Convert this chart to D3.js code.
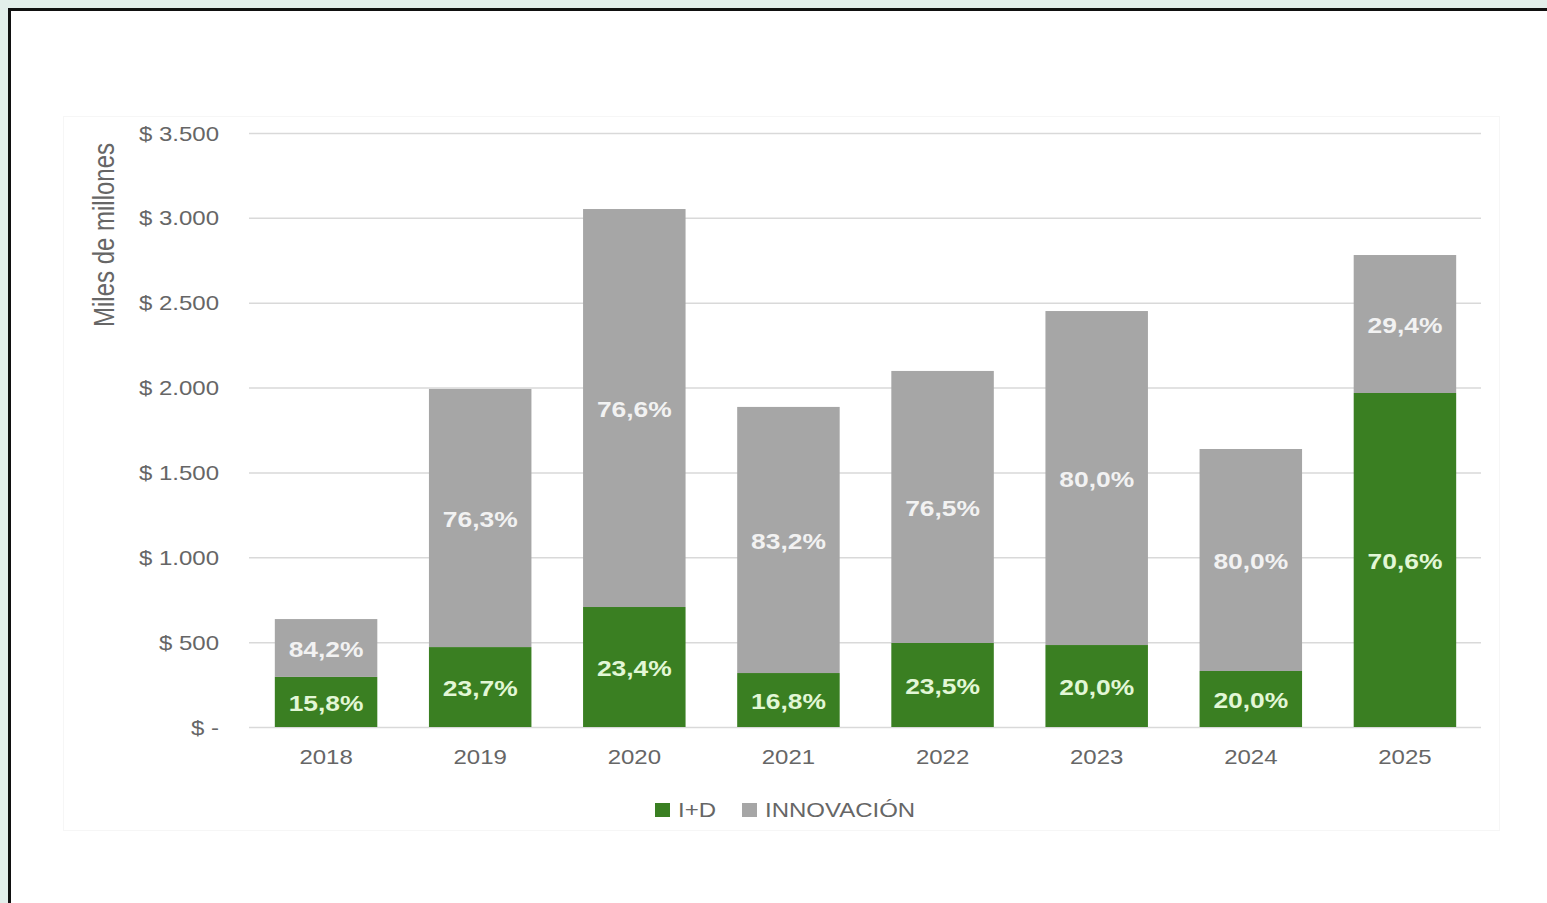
<!DOCTYPE html>
<html>
<head>
<meta charset="utf-8">
<script src="https://cdn.jsdelivr.net/npm/d3@7"></script>
<style>
  html, body { margin: 0; padding: 0; background: #e3efeb; overflow: hidden; }
  svg { display: block; }
  text { font-family: "Liberation Sans", Arial, sans-serif; }
</style>
</head>
<body>
<svg id="chart" width="1547" height="903"></svg>
<script>
const categories = ["2018", "2019", "2020", "2021", "2022", "2023", "2024", "2025"];
const idValues = [295, 471, 707, 318, 495, 483, 330, 1968];
const innovValues = [341, 1521, 2345, 1568, 1603, 1968, 1308, 813];
const idLabels = ["15,8%", "23,7%", "23,4%", "16,8%", "23,5%", "20,0%", "20,0%", "70,6%"];
const innovLabels = ["84,2%", "76,3%", "76,6%", "83,2%", "76,5%", "80,0%", "80,0%", "29,4%"];
const yTicks = [0, 500, 1000, 1500, 2000, 2500, 3000, 3500];
const yTickLabels = ["$ -", "$ 500", "$ 1.000", "$ 1.500", "$ 2.000", "$ 2.500", "$ 3.000", "$ 3.500"];
const seriesNames = ["I+D", "INNOVACIÓN"];
const yTitle = "Miles de millones";

const colors = { id: "#3a7f22", innov: "#a6a6a6" };
const SX = 1.2; // horizontal stretch of the original picture's text
const textGray = "#666666";

const svg = d3.select("#chart");

// frame
svg.append("rect").attr("x", 9.5).attr("y", 9.5).attr("width", 1700).attr("height", 1000)
  .attr("fill", "#ffffff").attr("stroke", "#111").attr("stroke-width", 3);
// faint chart area
svg.append("rect").attr("x", 63.5).attr("y", 116.5).attr("width", 1436).attr("height", 714)
  .attr("fill", "#ffffff").attr("stroke", "#f6f6f6").attr("stroke-width", 1);

const x = d3.scaleBand().domain(categories).range([249, 1482]).paddingInner(0.335).paddingOuter(0.1675);
const y = d3.scaleLinear().domain([0, 3500]).range([727, 133]);

// grid
const yAxis = d3.axisLeft(y).tickValues(yTicks).tickSize(-(1481 - 249)).tickFormat((d, i) => yTickLabels[i]).tickPadding(30);
const gy = svg.append("g").attr("transform", "translate(249,0)").call(yAxis);
gy.select(".domain").remove();
gy.selectAll(".tick line").attr("stroke", "#d9d9d9").attr("stroke-width", 1.5);
gy.selectAll(".tick text")
  .attr("fill", textGray).attr("font-size", 20).attr("text-anchor", "end")
  .attr("x", null).attr("dy", "0.35em")
  .attr("transform", `translate(-30,0) scale(${SX},1)`);

// stacked data
const stackData = categories.map((c, i) => ({ cat: c, id: idValues[i], innov: innovValues[i] }));
const series = d3.stack().keys(["id", "innov"])(stackData);
const labelsByKey = { id: idLabels, innov: innovLabels };
const labelColor = { id: "#e2f7d6", innov: "#f2f2f2" };

series.forEach(s => {
  svg.append("g").selectAll("rect").data(s).join("rect")
    .attr("x", d => x(d.data.cat))
    .attr("width", x.bandwidth())
    .attr("y", d => y(d[1]))
    .attr("height", d => y(d[0]) - y(d[1]))
    .attr("fill", colors[s.key]);
});
series.forEach(s => {
  svg.append("g").selectAll("text").data(s).join("text")
    .attr("transform", d => `translate(${x(d.data.cat) + x.bandwidth() / 2},${(y(d[0]) + y(d[1])) / 2 + 1}) scale(${SX},1)`)
    .attr("text-anchor", "middle").attr("dy", "0.38em")
    .attr("font-size", 22).attr("font-weight", "bold")
    .attr("fill", labelColor[s.key])
    .text((d, i) => labelsByKey[s.key][i]);
});

// x axis
const xAxis = d3.axisBottom(x).tickSize(0).tickPadding(0);
const gx = svg.append("g").attr("transform", "translate(0,727)").call(xAxis);
gx.select(".domain").remove();
gx.selectAll(".tick text")
  .attr("fill", textGray).attr("font-size", 20).attr("y", 0).attr("dy", null)
  .attr("transform", `translate(0,37) scale(${SX},1)`);

// y title
svg.append("text")
  .attr("transform", `translate(114,235) scale(${SX},1) rotate(-90)`)
  .attr("text-anchor", "middle").attr("font-size", 24).attr("fill", textGray)
  .text(yTitle);

// legend
const legend = svg.append("g");
const legItems = [
  { name: seriesNames[0], color: colors.id, x: 655 },
  { name: seriesNames[1], color: colors.innov, x: 742 }
];
legItems.forEach(it => {
  legend.append("rect").attr("x", it.x).attr("y", 803).attr("width", 15).attr("height", 14).attr("fill", it.color);
  legend.append("text").attr("transform", `translate(${it.x + 23},817) scale(${SX},1)`)
    .attr("font-size", 20).attr("fill", textGray).text(it.name);
});
</script>
</body>
</html>
